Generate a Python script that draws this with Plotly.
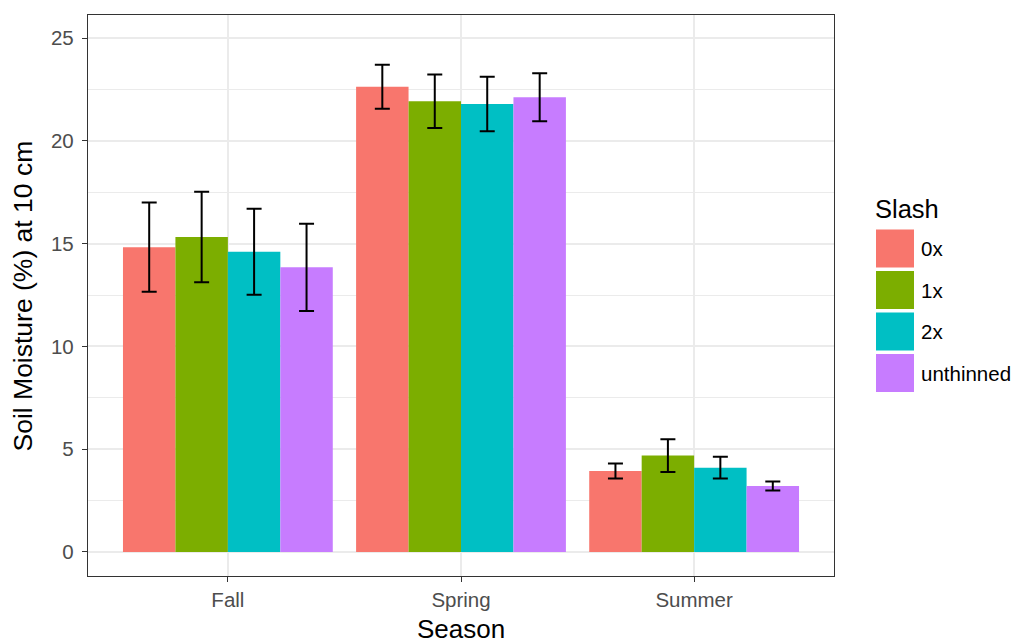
import plotly.graph_objects as go

# Soil moisture at 10 cm by season and slash treatment (mean ± SE)
seasons = ["Fall", "Spring", "Summer"]
slash_levels = ["0x", "1x", "2x", "unthinned"]

moist_0x = [14.83, 22.64, 3.94]
moist_1x = [15.33, 21.93, 4.69]
moist_2x = [14.61, 21.80, 4.10]
moist_unthinned = [13.85, 22.13, 3.21]

se_0x = [2.17, 1.07, 0.36]
se_1x = [2.20, 1.30, 0.80]
se_2x = [2.09, 1.33, 0.53]
se_unthinned = [2.12, 1.17, 0.22]

y_ticks = [0, 5, 10, 15, 20, 25]

colors = ["#F8766D", "#7CAE00", "#00BFC4", "#C77CFF"]
means = [moist_0x, moist_1x, moist_2x, moist_unthinned]
errors = [se_0x, se_1x, se_2x, se_unthinned]

FONT = "Liberation Sans, Arial, Helvetica, sans-serif"
TITLE_SIZE = 26
TEXT_SIZE = 20.5
W, H = 1016, 643
L, R, T, B = 88, 834, 15, 576  # panel box in pixels

fig = go.Figure()
for name, m, e, c in zip(slash_levels, means, errors, colors):
    fig.add_trace(go.Bar(
        name=name, x=seasons, y=m, marker=dict(color=c, line=dict(width=0)),
        error_y=dict(type="data", array=e, color="black", thickness=2, width=7.5),
        showlegend=False,
    ))


def px_x(px):
    return (px - L) / (R - L)


def px_y(py):
    return (B - py) / (B - T)


shapes = []
annotations = []

# legend: title, colour keys and labels
annotations.append(dict(
    x=px_x(873), y=px_y(209), xref="paper", yref="paper", text="Slash",
    showarrow=False, xanchor="left", yanchor="middle",
    font=dict(family=FONT, size=25.5, color="black"),
))
key_top = 229.5
key_h = 38
key_step = 41.5
for i, (name, c) in enumerate(zip(slash_levels, colors)):
    y0 = key_top + i * key_step
    shapes.append(dict(
        type="rect", xref="paper", yref="paper",
        x0=px_x(876), x1=px_x(914), y0=px_y(y0 + key_h), y1=px_y(y0),
        fillcolor=c, line=dict(width=0), layer="above",
    ))
    annotations.append(dict(
        x=px_x(919), y=px_y(y0 + key_h / 2), xref="paper", yref="paper",
        text=name, showarrow=False, xanchor="left", yanchor="middle",
        font=dict(family=FONT, size=TEXT_SIZE, color="black"),
    ))

# axis titles
annotations.append(dict(
    x=px_x(461), y=px_y(629), xref="paper", yref="paper", text="Season",
    showarrow=False, xanchor="center", yanchor="middle",
    font=dict(family=FONT, size=TITLE_SIZE, color="black"),
))
annotations.append(dict(
    x=px_x(23), y=px_y(296.5), xref="paper", yref="paper",
    text="Soil Moisture (%) at 10 cm", textangle=-90,
    showarrow=False, xanchor="center", yanchor="middle",
    font=dict(family=FONT, size=26.5, color="black"),
))

fig.update_layout(
    width=W, height=H,
    margin=dict(l=L, r=W - R, t=T, b=H - B, pad=0),
    paper_bgcolor="white", plot_bgcolor="white",
    barmode="group", bargap=0.1, bargroupgap=0,
    font=dict(family=FONT),
    shapes=shapes, annotations=annotations,
    showlegend=False,
)

fig.update_xaxes(
    type="category", range=[-0.6, 2.6],
    showgrid=True, gridcolor="#EBEBEB", gridwidth=2,
    showline=True, linecolor="#333333", linewidth=1.3, mirror=True,
    ticks="outside", ticklen=5, tickcolor="#333333", tickwidth=1.3,
    tickfont=dict(family=FONT, size=TEXT_SIZE, color="#4D4D4D"),
    zeroline=False,
)
fig.update_yaxes(
    range=[-1.17, 26.13],
    tickvals=y_ticks, ticktext=[str(v) for v in y_ticks],
    showgrid=True, gridcolor="#EBEBEB", gridwidth=2,
    minor=dict(dtick=2.5, tick0=0, showgrid=True, gridcolor="#EBEBEB", gridwidth=1),
    showline=True, linecolor="#333333", linewidth=1.3, mirror=True,
    ticks="outside", ticklen=5, tickcolor="#333333", tickwidth=1.3,
    ticklabelstandoff=4,
    tickfont=dict(family=FONT, size=TEXT_SIZE, color="#4D4D4D"),
    zeroline=False,
)

fig.write_html("out.html")
